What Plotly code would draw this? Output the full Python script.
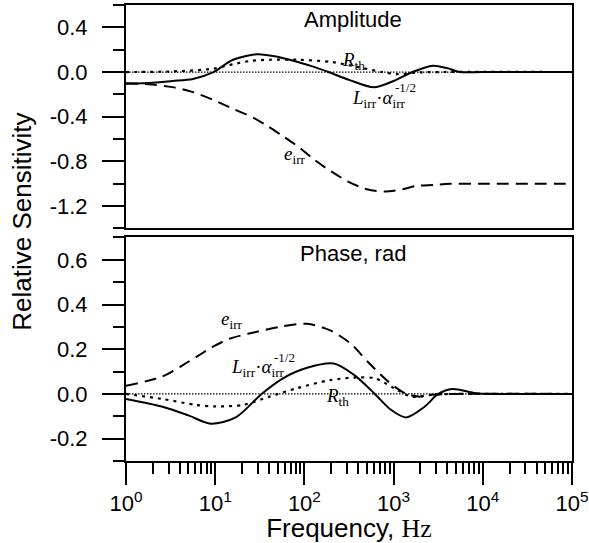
import plotly.graph_objects as go

# ---------------- data (log10 of frequency in Hz, relative sensitivity) -------------
# Amplitude panel
amp_L_logf = [0, 0.3, 0.52, 0.75, 0.98, 1.2, 1.47, 1.7, 1.925, 2.1, 2.27, 2.5, 2.78, 3.0, 3.21, 3.44, 3.6, 3.74, 4.0, 5.0]
amp_L_val = [-0.105, -0.095, -0.08, -0.062, 0.0, 0.11, 0.16, 0.137, 0.09, 0.048, 0.0, -0.07, -0.137, -0.08, 0.0, 0.057, 0.035, 0.0, 0.0, 0.0]

amp_e_logf = [0, 0.25, 0.52, 0.75, 0.98, 1.2, 1.43, 1.6, 1.77, 1.95, 2.12, 2.3, 2.49, 2.7, 2.91, 3.1, 3.25, 3.45, 3.63, 4.0, 5.0]
amp_e_val = [-0.1, -0.11, -0.135, -0.18, -0.25, -0.33, -0.41, -0.49, -0.58, -0.68, -0.79, -0.89, -0.98, -1.05, -1.07, -1.05, -1.02, -1.01, -1.0, -1.0, -1.0]

amp_R_logf = [0, 0.5, 0.98, 1.2, 1.4, 1.62, 1.93, 2.3, 2.57, 2.87, 3.06, 3.25, 3.5, 5.0]
amp_R_val = [0, 0.005, 0.03, 0.07, 0.1, 0.11, 0.11, 0.09, 0.05, 0.0, -0.02, -0.005, 0, 0]

# Phase panel
ph_L_logf = [0, 0.4, 0.7, 0.95, 1.23, 1.52, 1.76, 2.03, 2.33, 2.56, 2.79, 2.97, 3.14, 3.35, 3.5, 3.66, 3.92, 4.15, 5.0]
ph_L_val = [-0.022, -0.056, -0.096, -0.133, -0.105, 0.0, 0.07, 0.117, 0.136, 0.084, 0.0, -0.071, -0.105, -0.056, 0.0, 0.022, 0.003, 0, 0]

ph_e_logf = [0, 0.4, 0.7, 0.97, 1.16, 1.38, 1.72, 2.03, 2.29, 2.52, 2.71, 2.94, 3.13, 3.28, 3.43, 3.7, 5.0]
ph_e_val = [0.037, 0.077, 0.144, 0.21, 0.247, 0.27, 0.30, 0.314, 0.284, 0.225, 0.144, 0.055, 0.003, -0.012, -0.004, 0, 0]

ph_R_logf = [0, 0.4, 0.78, 1.0, 1.31, 1.61, 1.91, 2.29, 2.6, 2.79, 3.01, 3.2, 3.43, 3.7, 5.0]
ph_R_val = [0, -0.022, -0.049, -0.056, -0.049, -0.012, 0.025, 0.062, 0.074, 0.07, 0.025, -0.012, -0.004, 0, 0]

zero_ref_f = [1, 1e5]
zero_ref_v = [0, 0]

x_tickvals = [1, 10, 100, 1000, 10000, 100000]
x_ticktext = ["10<sup>0</sup>", "10<sup>1</sup>", "10<sup>2</sup>", "10<sup>3</sup>", "10<sup>4</sup>", "10<sup>5</sup>"]
amp_tickvals = [-1.2, -0.8, -0.4, 0.0, 0.4]
amp_ticktext = ["-1.2", "-0.8", "-0.4", "0.0", "0.4"]
ph_tickvals = [-0.2, 0.0, 0.2, 0.4, 0.6]
ph_ticktext = ["-0.2", "0.0", "0.2", "0.4", "0.6"]

SANS = "Liberation Sans, Arial, Helvetica, sans-serif"
SERIF = "Liberation Serif, Times New Roman, serif"


def f(logs):
    return [10 ** v for v in logs]


fig = go.Figure()

solid = dict(color="black", width=2)
dashed = dict(color="black", width=2, dash="12px,7px")
dotted = dict(color="black", width=2.2, dash="3px,5px")
refline = dict(color="black", width=1.2, dash="1.5px,1.5px")

for xa, ya, sets in [
    ("x", "y", [(amp_L_logf, amp_L_val, solid), (amp_e_logf, amp_e_val, dashed), (amp_R_logf, amp_R_val, dotted)]),
    ("x2", "y2", [(ph_L_logf, ph_L_val, solid), (ph_e_logf, ph_e_val, dashed), (ph_R_logf, ph_R_val, dotted)]),
]:
    fig.add_trace(go.Scatter(x=zero_ref_f, y=zero_ref_v, mode="lines", line=refline,
                             xaxis=xa, yaxis=ya, showlegend=False, hoverinfo="skip"))
    for lf, vals, ln in sets:
        fig.add_trace(go.Scatter(x=f(lf), y=vals, mode="lines",
                                 line=dict(shape="spline", smoothing=0.8, **ln),
                                 xaxis=xa, yaxis=ya, showlegend=False))

axis_common = dict(showline=True, linecolor="black", linewidth=2, mirror=True,
                   showgrid=False, zeroline=False, automargin=False)

ytick_common = dict(ticks="outside", ticklen=22, tickwidth=2, tickcolor="black",
                    ticklabelstandoff=10, tickfont=dict(size=22, family=SANS))

fig.update_layout(
    width=589, height=543,
    margin=dict(l=126, r=17, t=5, b=82),
    paper_bgcolor="white", plot_bgcolor="white",
    font=dict(family=SANS, color="black", size=20),
    xaxis=dict(type="log", range=[0, 5], domain=[0, 1], anchor="y", matches="x2",
               showticklabels=False, ticks="", **axis_common),
    yaxis=dict(domain=[0.51, 1], range=[-1.4, 0.6], anchor="x",
               tickmode="array", tickvals=amp_tickvals, ticktext=amp_ticktext,
               minor=dict(ticks="outside", ticklen=11, tickwidth=2, tickcolor="black",
                          dtick=0.2, tick0=0),
               **ytick_common, **axis_common),
    xaxis2=dict(type="log", range=[0, 5], domain=[0, 1], anchor="y2",
                tickmode="array", tickvals=x_tickvals, ticktext=x_ticktext,
                ticks="outside", ticklen=22, tickwidth=2, tickcolor="black",
                minor=dict(ticks="outside", ticklen=11, tickwidth=2, tickcolor="black",
                           dtick="D1"),
                tickfont=dict(size=22, family=SANS),
                title=dict(text="Frequency, <span style='font-family:Liberation Serif'>Hz</span>",
                           font=dict(size=26, family=SANS), standoff=7),
                **axis_common),
    yaxis2=dict(domain=[0, 0.4902], range=[-0.3, 0.7], anchor="x2",
                tickmode="array", tickvals=ph_tickvals, ticktext=ph_ticktext,
                minor=dict(ticks="outside", ticklen=11, tickwidth=2, tickcolor="black",
                           dtick=0.1, tick0=0),
                **ytick_common, **axis_common),
)

ann = []
# y-axis title spanning both panels
ann.append(dict(text="Relative Sensitivity", xref="paper", yref="paper", x=-0.233, y=0.525,
                textangle=-90, showarrow=False, font=dict(size=26, family=SANS),
                xanchor="center", yanchor="middle"))
# panel titles
ann.append(dict(text="Amplitude", xref="x domain", yref="y domain", x=0.51, y=0.933,
                yanchor="middle", showarrow=False, font=dict(size=22, family=SANS)))
ann.append(dict(text="Phase, rad", xref="x2 domain", yref="y2 domain", x=0.51, y=0.93,
                yanchor="middle", showarrow=False, font=dict(size=22, family=SANS)))

lab = dict(showarrow=False, font=dict(size=19, family=SERIF, color="black"))
# Amplitude labels
ann.append(dict(text="<i>R</i><sub>th</sub>", xref="x", yref="y", x=2.55, y=0.095, **lab))
ann.append(dict(text="<i>e</i><sub>irr</sub>", xref="x", yref="y", x=1.89, y=-0.74, **lab))
ann.append(dict(text="<i>L</i><sub>irr</sub>·<i>α</i><sub>irr</sub>", xref="x", yref="y",
                x=2.84, y=-0.24, xanchor="center", **lab))
ann.append(dict(text="-1/2", xref="x", yref="y", x=3.13, y=-0.135, xanchor="center",
                showarrow=False, font=dict(size=13, family=SERIF)))
# Phase labels
ann.append(dict(text="<i>e</i><sub>irr</sub>", xref="x2", yref="y2", x=1.19, y=0.33, **lab))
ann.append(dict(text="<i>L</i><sub>irr</sub>·<i>α</i><sub>irr</sub>", xref="x2", yref="y2",
                x=1.48, y=0.115, xanchor="center", **lab))
ann.append(dict(text="-1/2", xref="x2", yref="y2", x=1.78, y=0.165, xanchor="center",
                showarrow=False, font=dict(size=13, family=SERIF)))
ann.append(dict(text="<i>R</i><sub>th</sub>", xref="x2", yref="y2", x=2.37, y=-0.012, **lab))

fig.update_layout(annotations=ann)

fig.write_html("out.html", config={"displayModeBar": False},
               post_script="document.body.style.margin='0px';")
